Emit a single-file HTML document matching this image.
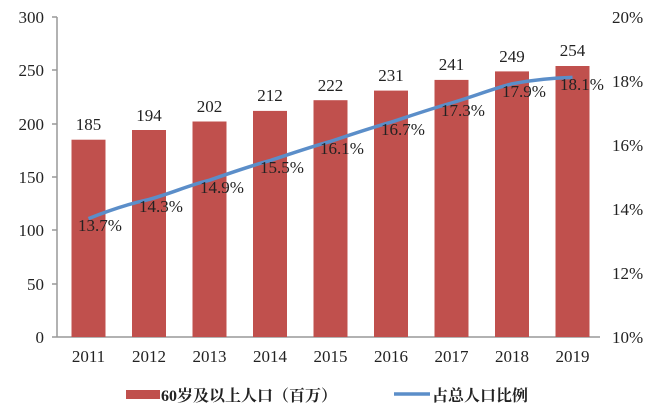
<!DOCTYPE html><html><head><meta charset="utf-8"><style>body{margin:0;background:#fff}</style></head><body>
<svg width="661" height="412" xmlns="http://www.w3.org/2000/svg" font-family="Liberation Serif, Noto Serif CJK SC, serif" font-size="16" fill="#222">
<g stroke="#999" stroke-width="1.5" fill="none">
<line x1="57" y1="17" x2="57" y2="337"/><line x1="57" y1="337" x2="600" y2="337"/>
<line x1="52" y1="17" x2="57" y2="17"/><line x1="52" y1="70" x2="57" y2="70"/><line x1="52" y1="124" x2="57" y2="124"/><line x1="52" y1="177" x2="57" y2="177"/><line x1="52" y1="230" x2="57" y2="230"/><line x1="52" y1="284" x2="57" y2="284"/><line x1="52" y1="337" x2="57" y2="337"/>
</g>
<g text-anchor="end" font-size="17"><text x="44" y="23">300</text><text x="44" y="76">250</text><text x="44" y="130">200</text><text x="44" y="183">150</text><text x="44" y="236">100</text><text x="44" y="290">50</text><text x="44" y="343">0</text></g>
<g font-size="17"><text x="612" y="23">20%</text><text x="612" y="87">18%</text><text x="612" y="151">16%</text><text x="612" y="215">14%</text><text x="612" y="279">12%</text><text x="612" y="343">10%</text></g>
<g fill="#c0504d">
<rect x="71.5" y="139.7" width="34" height="197.3"/><rect x="132" y="130" width="34" height="207"/><rect x="192.5" y="121.5" width="34" height="215.5"/><rect x="253" y="110.9" width="34" height="226.1"/><rect x="313.5" y="100.2" width="34" height="236.8"/><rect x="374" y="90.6" width="34" height="246.4"/><rect x="434.5" y="79.9" width="34" height="257.1"/><rect x="495" y="71.4" width="34" height="265.6"/><rect x="555.5" y="66" width="34" height="271"/>
</g>
<g text-anchor="middle" font-size="17"><text x="88.5" y="130">185</text><text x="149" y="121">194</text><text x="209.5" y="112">202</text><text x="270" y="101">212</text><text x="330.5" y="91">222</text><text x="391" y="81">231</text><text x="451.5" y="70">241</text><text x="512" y="62">249</text><text x="572.5" y="56">254</text></g>
<path d="M88.5,218.6 C110,210 128,204 149,199.4 C170,194 189,185 209.5,180.2 C230,173 250,166 270,160.6 C290,154 310,147 330.5,141.4 C350,135 370,128 391,122.2 C410,116 430,109 451.5,103 C472,97 492,89 512,83.8 C532,80 552,78 572.5,77.4" fill="none" stroke="#5b8ec9" stroke-width="3.5"/>
<g text-anchor="middle" font-size="17"><text x="100" y="231">13.7%</text><text x="161" y="212">14.3%</text><text x="222" y="193">14.9%</text><text x="282" y="173">15.5%</text><text x="342" y="154">16.1%</text><text x="403" y="135">16.7%</text><text x="463" y="116">17.3%</text><text x="524" y="97">17.9%</text><text x="582" y="90">18.1%</text></g>
<g text-anchor="middle" font-size="17"><text x="88.5" y="362">2011</text><text x="149" y="362">2012</text><text x="209.5" y="362">2013</text><text x="270" y="362">2014</text><text x="330.5" y="362">2015</text><text x="391" y="362">2016</text><text x="451.5" y="362">2017</text><text x="512" y="362">2018</text><text x="572.5" y="362">2019</text></g>
<rect x="126" y="390" width="34" height="9" fill="#c0504d"/>
<text x="161" y="401" font-size="16" font-weight="bold">60岁及以上人口（百万）</text>
<line x1="394" y1="394" x2="430" y2="394" stroke="#5b8ec9" stroke-width="3.5"/>
<text x="432" y="401" font-size="16" font-weight="bold">占总人口比例</text>
</svg></body></html>
